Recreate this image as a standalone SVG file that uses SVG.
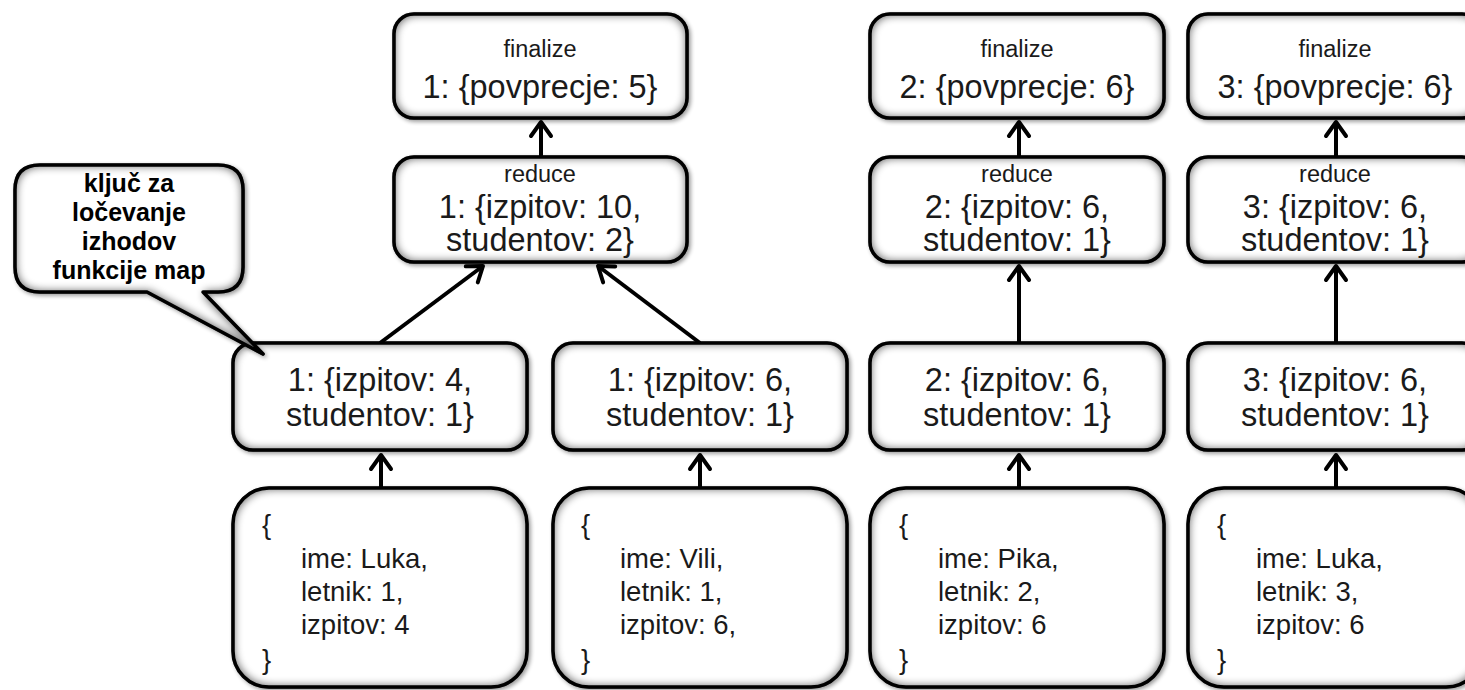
<svg xmlns="http://www.w3.org/2000/svg" width="1465" height="690" viewBox="0 0 1465 690">
<defs>
<style>
.box{fill:#fff;stroke:#000;stroke-width:3.5}
.t{font-family:"Liberation Sans",Arial,sans-serif;fill:#1a1a1a;text-anchor:middle}
.big{font-size:32.5px}
.sm{font-size:23.5px}
.in{font-family:"Liberation Sans",Arial,sans-serif;fill:#1a1a1a;font-size:27.5px}
.cl{font-family:"Liberation Sans",Arial,sans-serif;fill:#000;font-size:25px;font-weight:bold;text-anchor:middle}
.c{fill:none;stroke:#000;stroke-width:4;marker-end:url(#ah)}
</style>
<filter id="sh" x="-10%" y="-10%" width="120%" height="125%" color-interpolation-filters="sRGB">
<feGaussianBlur in="SourceAlpha" stdDeviation="2" result="db"/>
<feOffset in="db" dx="1.5" dy="2" result="do"/>
<feComponentTransfer in="do" result="ds"><feFuncA type="linear" slope="0.4"/></feComponentTransfer>
<feFlood flood-color="#000" flood-opacity="1" result="f"/>
<feComposite in="f" in2="SourceAlpha" operator="out" result="o"/>
<feMorphology in="o" operator="dilate" radius="3" result="od"/>
<feGaussianBlur in="od" stdDeviation="4" result="b"/>
<feComposite in="b" in2="SourceAlpha" operator="in" result="inner0"/>
<feComponentTransfer in="inner0" result="inner"><feFuncA type="linear" slope="0.6"/></feComponentTransfer>
<feMerge><feMergeNode in="ds"/><feMergeNode in="SourceGraphic"/><feMergeNode in="inner"/></feMerge>
</filter>
<marker id="ah" markerUnits="userSpaceOnUse" markerWidth="40" markerHeight="40" viewBox="-20 -20 40 40" refX="0" refY="0" orient="auto" overflow="visible">
<path d="M-14,-10 L0,0 L-14,10" fill="none" stroke="#000" stroke-width="4" stroke-linecap="round" stroke-linejoin="round"/>
</marker>
</defs>
<rect width="1465" height="690" fill="#fff"/>

<g id="connectors">
<line class="c" x1="381" y1="488" x2="381" y2="455"/>
<line class="c" x1="700" y1="488" x2="700" y2="455"/>
<line class="c" x1="1019" y1="488" x2="1019" y2="455"/>
<line class="c" x1="1336" y1="488" x2="1336" y2="455"/>
<line class="c" x1="380" y1="343" x2="483" y2="266"/>
<line class="c" x1="700" y1="343" x2="598" y2="266"/>
<line class="c" x1="1019" y1="343" x2="1019" y2="266"/>
<line class="c" x1="1336" y1="343" x2="1336" y2="266"/>
<line class="c" x1="541" y1="157" x2="541" y2="122"/>
<line class="c" x1="1019" y1="157" x2="1019" y2="122"/>
<line class="c" x1="1336" y1="157" x2="1336" y2="122"/>
</g>

<g id="finalize1">
<rect class="box" filter="url(#sh)" x="394" y="14" width="293" height="104" rx="20"/>
<text class="t sm" x="540" y="57">finalize</text>
<text class="t big" x="540" y="98">1: {povprecje: 5}</text>
</g>
<g id="finalize2">
<rect class="box" filter="url(#sh)" x="870" y="14" width="294" height="104" rx="20"/>
<text class="t sm" x="1017" y="57">finalize</text>
<text class="t big" x="1017" y="98">2: {povprecje: 6}</text>
</g>
<g id="finalize3">
<rect class="box" filter="url(#sh)" x="1188" y="14" width="294" height="104" rx="20"/>
<text class="t sm" x="1335" y="57">finalize</text>
<text class="t big" x="1335" y="98">3: {povprecje: 6}</text>
</g>

<g id="reduce1">
<rect class="box" filter="url(#sh)" x="394" y="157" width="293" height="105" rx="20"/>
<text class="t sm" x="540" y="182">reduce</text>
<text class="t big" x="540" y="218">1: {izpitov: 10,</text>
<text class="t big" x="540" y="251">studentov: 2}</text>
</g>
<g id="reduce2">
<rect class="box" filter="url(#sh)" x="870" y="157" width="294" height="105" rx="20"/>
<text class="t sm" x="1017" y="182">reduce</text>
<text class="t big" x="1017" y="218">2: {izpitov: 6,</text>
<text class="t big" x="1017" y="251">studentov: 1}</text>
</g>
<g id="reduce3">
<rect class="box" filter="url(#sh)" x="1188" y="157" width="294" height="105" rx="20"/>
<text class="t sm" x="1335" y="182">reduce</text>
<text class="t big" x="1335" y="218">3: {izpitov: 6,</text>
<text class="t big" x="1335" y="251">studentov: 1}</text>
</g>

<g id="map1">
<rect class="box" filter="url(#sh)" x="233" y="343" width="294" height="107" rx="20"/>
<text class="t big" x="380" y="391">1: {izpitov: 4,</text>
<text class="t big" x="380" y="426">studentov: 1}</text>
</g>
<g id="map2">
<rect class="box" filter="url(#sh)" x="553" y="343" width="294" height="107" rx="20"/>
<text class="t big" x="700" y="391">1: {izpitov: 6,</text>
<text class="t big" x="700" y="426">studentov: 1}</text>
</g>
<g id="map3">
<rect class="box" filter="url(#sh)" x="870" y="343" width="294" height="107" rx="20"/>
<text class="t big" x="1017" y="391">2: {izpitov: 6,</text>
<text class="t big" x="1017" y="426">studentov: 1}</text>
</g>
<g id="map4">
<rect class="box" filter="url(#sh)" x="1188" y="343" width="294" height="107" rx="20"/>
<text class="t big" x="1335" y="391">3: {izpitov: 6,</text>
<text class="t big" x="1335" y="426">studentov: 1}</text>
</g>

<g id="input1">
<rect class="box" filter="url(#sh)" x="233" y="488" width="294" height="199" rx="36"/>
<text class="in" x="262" y="534">{</text>
<text class="in" x="301" y="568">ime: Luka,</text>
<text class="in" x="301" y="601">letnik: 1,</text>
<text class="in" x="301" y="634">izpitov: 4</text>
<text class="in" x="262" y="669">}</text>
</g>
<g id="input2">
<rect class="box" filter="url(#sh)" x="553" y="488" width="294" height="199" rx="36"/>
<text class="in" x="581" y="534">{</text>
<text class="in" x="620" y="568">ime: Vili,</text>
<text class="in" x="620" y="601">letnik: 1,</text>
<text class="in" x="620" y="634">izpitov: 6,</text>
<text class="in" x="581" y="669">}</text>
</g>
<g id="input3">
<rect class="box" filter="url(#sh)" x="870" y="488" width="294" height="199" rx="36"/>
<text class="in" x="899" y="534">{</text>
<text class="in" x="938" y="568">ime: Pika,</text>
<text class="in" x="938" y="601">letnik: 2,</text>
<text class="in" x="938" y="634">izpitov: 6</text>
<text class="in" x="899" y="669">}</text>
</g>
<g id="input4">
<rect class="box" filter="url(#sh)" x="1188" y="488" width="294" height="199" rx="36"/>
<text class="in" x="1217" y="534">{</text>
<text class="in" x="1256" y="568">ime: Luka,</text>
<text class="in" x="1256" y="601">letnik: 3,</text>
<text class="in" x="1256" y="634">izpitov: 6</text>
<text class="in" x="1217" y="669">}</text>
</g>

<g id="callout">
<path class="box" filter="url(#sh)" d="M40,165 H218 Q243,165 243,190 V267 Q243,292 218,292 H203 L263,354 L147,292 H40 Q15,292 15,267 V190 Q15,165 40,165 Z" stroke-linejoin="round"/>
<text class="cl" x="129" y="192">ključ za</text>
<text class="cl" x="129" y="221">ločevanje</text>
<text class="cl" x="129" y="250">izhodov</text>
<text class="cl" x="129" y="279">funkcije map</text>
</g>
</svg>
